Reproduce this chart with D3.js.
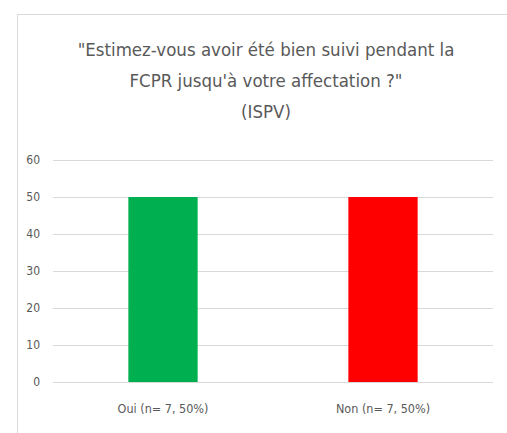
<!DOCTYPE html>
<html>
<head>
<meta charset="utf-8">
<script src="https://cdn.jsdelivr.net/npm/d3@7"></script>
<style>
  body { margin: 0; background: #fff; }
  svg { display: block; }
</style>
</head>
<body>
<svg></svg>
<script>
const categories = ['Oui (n= 7, 50%)', 'Non (n= 7, 50%)']
const values = [50, 50]
const barColors = ['#00B050', '#FF0000']
const yTicks = [0, 10, 20, 30, 40, 50, 60]
const titleLines = ['"Estimez-vous avoir été bien suivi pendant la', 'FCPR jusqu\'à votre affectation ?"', '(ISPV)']

const
    svgWidth = 507,
    svgHeight = 433,
    font = '"DejaVu Sans Condensed", "DejaVu Sans", sans-serif',
    textColor = '#595959'

const plot = { left: 53, right: 493, top: 160, bottom: 382 }

let svg = d3.select('svg')
    .attr('width', svgWidth)
    .attr('height', svgHeight)

// chart frame
svg.append('path')
    .attr('d', `M17.5,${svgHeight} V14.5 H${svgWidth}`)
    .attr('fill', 'none')
    .attr('stroke', '#d9d9d9')

svg.selectAll('text.title')
    .data(titleLines)
    .enter()
    .append('text')
        .attr('class', 'title')
        .attr('x', 266)
        .attr('y', (d, i) => 56 + i * 31)
        .attr('text-anchor', 'middle')
        .attr('font-family', font)
        .attr('font-size', 18.5)
        .attr('fill', textColor)
        .text(d => d)

let y = d3.scaleLinear()
    .domain([0, 60])
    .range([plot.bottom, plot.top])

let x = d3.scaleBand()
    .domain(categories)
    .range([plot.left, plot.right])

let yAxis = svg.append('g')
    .attr('transform', `translate(${plot.left},0)`)
    .call(d3.axisLeft(y).tickValues(yTicks).tickSize(-(plot.right - plot.left)).tickPadding(13))
yAxis.select('.domain').remove()
yAxis.selectAll('line').attr('stroke', '#d9d9d9')
yAxis.selectAll('text')
    .attr('font-family', font)
    .attr('font-size', 12)
    .attr('fill', textColor)

const barWidth = x.bandwidth() * 0.315

svg.selectAll('rect.bar')
    .data(values)
    .enter()
    .append('rect')
        .attr('class', 'bar')
        .attr('x', (d, i) => x(categories[i]) + x.bandwidth() / 2 - barWidth / 2)
        .attr('y', d => y(d))
        .attr('width', barWidth)
        .attr('height', d => y(0) - y(d))
        .attr('fill', (d, i) => barColors[i])

// redraw baseline over bars
svg.append('line')
    .attr('x1', plot.left).attr('x2', plot.right)
    .attr('y1', y(0) + 0.5).attr('y2', y(0) + 0.5)
    .attr('stroke', '#d9d9d9')

svg.selectAll('text.cat')
    .data(categories)
    .enter()
    .append('text')
        .attr('class', 'cat')
        .attr('x', d => x(d) + x.bandwidth() / 2)
        .attr('y', 413)
        .attr('text-anchor', 'middle')
        .attr('font-family', font)
        .attr('font-size', 12.5)
        .attr('fill', textColor)
        .text(d => d)
</script>
</body>
</html>
